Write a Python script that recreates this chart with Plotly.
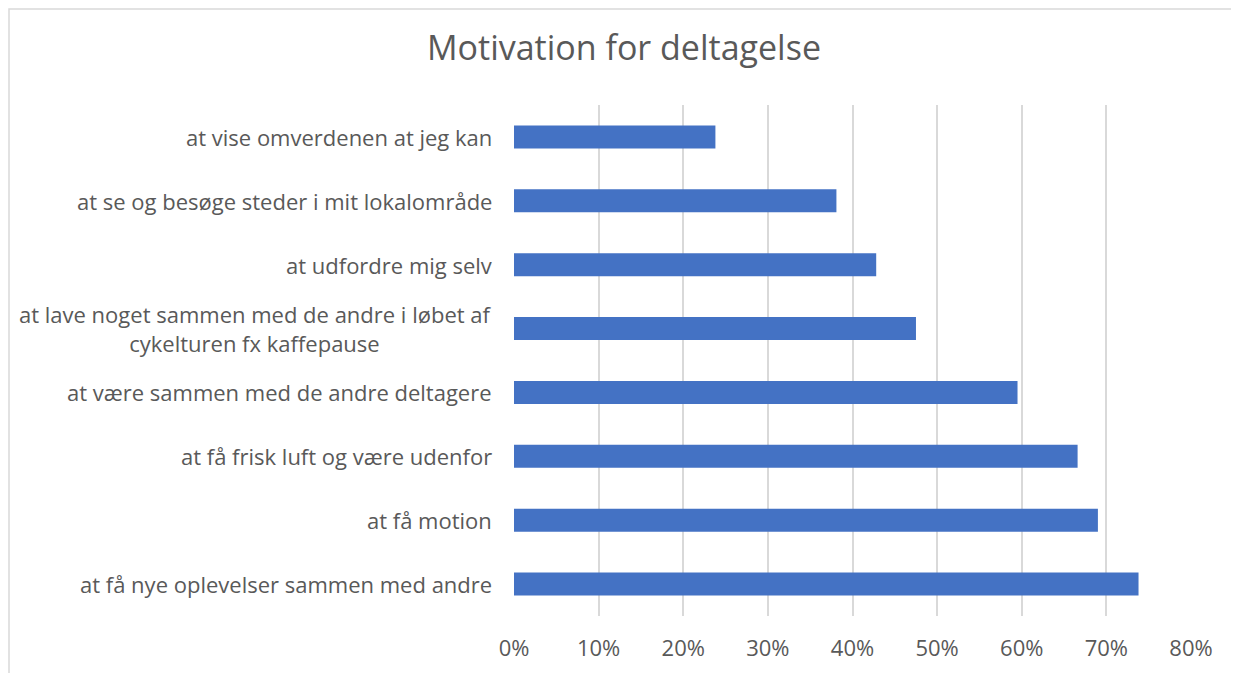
import plotly.graph_objects as go

categories = [
    "at få nye oplevelser sammen med andre",
    "at få motion",
    "at få frisk luft og være udenfor",
    "at være sammen med de andre deltagere",
    "at lave noget sammen med de andre i løbet af<br>cykelturen fx kaffepause",
    "at udfordre mig selv",
    "at se og besøge steder i mit lokalområde",
    "at vise omverdenen at jeg kan",
]
values = [0.738, 0.690, 0.666, 0.595, 0.475, 0.428, 0.381, 0.238]
tick_vals = [0, 0.1, 0.2, 0.3, 0.4, 0.5, 0.6, 0.7, 0.8]
tick_text = ["0%", "10%", "20%", "30%", "40%", "50%", "60%", "70%", "80%"]

grey = "#595959"
font_family = "Open Sans, Liberation Sans, sans-serif"

W, H = 1231, 665
L, R, T, B = 506, 48, 97, 57
plot_w = W - L - R
plot_h = H - T - B

fig = go.Figure()
fig.add_trace(go.Bar(
    x=values, y=categories, orientation="h",
    marker=dict(color="#4472C4", line=dict(width=0)),
    hoverinfo="x+y",
))

annotations = []
for c in categories:
    annotations.append(dict(
        x=0, xref="paper", xshift=-20, y=c, yref="y",
        text=c, showarrow=False, xanchor="right", yanchor="middle",
        align="center", font=dict(family=font_family, size=22, color=grey),
    ))

fig.update_layout(
    width=W, height=H,
    margin=dict(l=L, r=R, t=T, b=B, autoexpand=False),
    paper_bgcolor="white", plot_bgcolor="white",
    showlegend=False,
    bargap=0.64,
    title=dict(text="Motivation for deltagelse", x=(624 - 8) / W, xanchor="center",
               y=1 - 40 / H, yanchor="middle",
               font=dict(family=font_family, size=34, color=grey)),
    xaxis=dict(range=[0, 0.8], tickvals=tick_vals, ticktext=tick_text,
               showgrid=True, gridcolor="#d9d9d9", gridwidth=1.5,
               zeroline=False, showline=False, ticks="",
               ticklabelstandoff=17,
               tickfont=dict(family=font_family, size=22, color=grey)),
    yaxis=dict(showticklabels=False, showgrid=False, zeroline=False,
               showline=False, ticks="", range=[-0.5, len(categories) - 0.5]),
    annotations=annotations,
    shapes=[dict(type="rect", xref="paper", yref="paper",
                 x0=(1 - L) / plot_w, x1=(W + 20 - L) / plot_w,
                 y0=-0.3, y1=1 + (T - 1) / plot_h,
                 line=dict(color="#d9d9d9", width=1.5), fillcolor="rgba(0,0,0,0)",
                 layer="below")],
)

fig.write_html("out.html")
